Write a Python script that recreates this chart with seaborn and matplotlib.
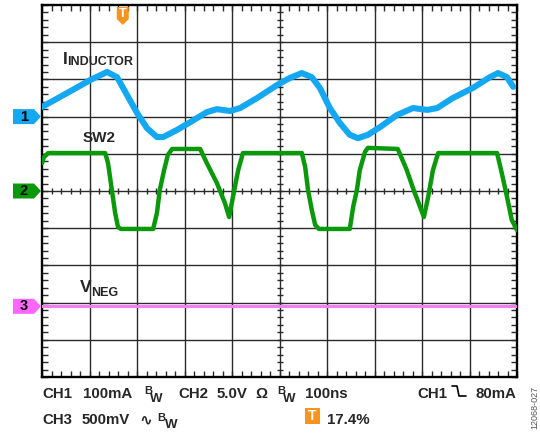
import numpy as np
import matplotlib
matplotlib.use("Agg")
import matplotlib.pyplot as plt
from matplotlib.patches import Polygon
from matplotlib.lines import Line2D
import seaborn as sns

# scope settings: 100 ns/div, 10 x 10 divisions, levels in screen divisions (0 = centre)
t_inductor = [0, 65, 101, 137, 158, 179, 200, 221, 242, 255, 284, 312, 347, 368, 396,
              417, 453, 495, 522, 547, 568, 585, 606, 627, 648, 665, 686, 712, 747,
              781, 811, 832, 865, 907, 943, 960, 979, 992]
inductor_div = [2.26, 2.72, 2.98, 3.20, 3.06, 2.58, 2.10, 1.69, 1.45, 1.45, 1.64, 1.85,
                2.12, 2.20, 2.15, 2.23, 2.50, 2.85, 3.04, 3.17, 3.06, 2.77, 2.23, 1.83,
                1.51, 1.42, 1.51, 1.72, 2.04, 2.23, 2.18, 2.23, 2.50, 2.77, 3.06, 3.17,
                3.06, 2.80]

t_sw2 = [0, 4, 13, 133, 139, 147, 154, 160, 166, 234, 242, 248, 257, 265, 274, 333, 347,
         368, 385, 394, 402, 413, 423, 547, 554, 560, 568, 575, 583, 648, 655, 663, 669,
         680, 686, 749, 768, 781, 796, 804, 813, 823, 834, 958, 968, 979, 989, 1000]
sw2_div = [0.75, 0.91, 1.02, 1.02, 0.75, 0.03, -0.59, -0.97, -1.02, -1.02, -0.59, 0.03,
           0.56, 0.97, 1.13, 1.13, 0.75, 0.22, -0.32, -0.70, -0.16, 0.56, 1.02, 1.02,
           0.65, 0.03, -0.51, -0.91, -1.02, -1.02, -0.43, 0.03, 0.56, 1.05, 1.16, 1.13,
           0.56, 0.08, -0.43, -0.70, -0.16, 0.56, 1.02, 1.02, 0.48, -0.16, -0.78, -1.05]

t_vneg = [0, 1000]
vneg_div = [-3.1, -3.1]

channel_refs = {"1": 2.0, "2": 0.0, "3": -3.1}
trigger_ns = 170

c_blue = "#14a8f2"
c_green = "#0a990a"
c_mag = "#f47cf4"
c_orange = "#f7941d"

sns.set_style("white")
plt.rcParams['font.family'] = ['Liberation Sans', 'DejaVu Sans']
plt.rcParams['font.weight'] = 'bold'

W, H = 540, 447
fig = plt.figure(figsize=(W / 100, H / 100), dpi=100)
ax = fig.add_axes([42 / W, 1 - 377 / H, 475 / W, 372 / H])
ax.set_xlim(0, 1000)
ax.set_ylim(-5, 5)

# graticule
for i in range(1, 10):
    ax.axvline(i * 100, color="#2a2a2a", lw=1.0, zorder=1)
    ax.axhline(i - 5, color="#2a2a2a", lw=1.0, zorder=1)
for s in ax.spines.values():
    s.set_linewidth(1.7)
    s.set_color("black")
ax.set_xticks([])
ax.set_yticks([])
ax.set_xticks(np.arange(0, 1001, 20), minor=True)
ax.set_yticks(np.arange(-5, 5.01, 0.2), minor=True)
ax.tick_params(which="minor", direction="in", length=4, width=1.0,
               top=True, right=True, bottom=True, left=True, colors="#2a2a2a")
ax.plot(np.arange(0, 1001, 20), np.zeros(51), ls="none", marker="|", ms=5, mew=1.0,
        color="#2a2a2a", zorder=1)
ax.plot(np.full(51, 500), np.arange(-5, 5.01, 0.2), ls="none", marker="_", ms=5, mew=1.0,
        color="#2a2a2a", zorder=1)

# traces
sns.lineplot(x=t_vneg, y=vneg_div, ax=ax, color=c_mag, lw=2.2, zorder=3)
sns.lineplot(x=t_sw2, y=sw2_div, ax=ax, color=c_green, lw=3.2, zorder=3)
sns.lineplot(x=t_inductor, y=inductor_div, ax=ax, color=c_blue, lw=4.4, zorder=4,
             solid_capstyle="round")

# channel markers on the left
tr = ax.get_yaxis_transform()
x0, x1, x2 = (13 - 42) / 475, (34 - 42) / 475, (41 - 42) / 475
hh = 7.5 / 37.2
colors = {"1": c_blue, "2": "#0a990a", "3": "#ff66ff"}
for ch, ref in channel_refs.items():
    poly = Polygon([(x0, ref - hh), (x1, ref - hh), (x2, ref), (x1, ref + hh), (x0, ref + hh)],
                   closed=True, transform=tr, facecolor=colors[ch], edgecolor="none",
                   clip_on=False, zorder=5)
    ax.add_patch(poly)
    ax.text((24 - 42) / 475, ref, ch, transform=tr, ha="center", va="center",
            fontsize=10.5, fontweight="bold", color="black", clip_on=False, zorder=7)

# trigger marker on top
trx = ax.get_xaxis_transform()
hw = 6 / 47.5 * 100
y_top, y_box, y_tip = (377 - 7) / 372, (377 - 19) / 372, (377 - 25) / 372
ax.add_patch(Polygon([(trigger_ns - hw, y_top), (trigger_ns + hw, y_top),
                      (trigger_ns + hw, y_box), (trigger_ns, y_tip), (trigger_ns - hw, y_box)],
                     closed=True, transform=trx, facecolor=c_orange, edgecolor="none",
                     clip_on=False, zorder=5))
ax.text(trigger_ns, (377 - 14) / 372, "T", transform=trx, ha="center", va="center",
        fontsize=9, fontweight="bold", color="white", zorder=7)


def ftext(x, y, s, size=10.8, **kw):
    fig.text(x / W, 1 - y / H, s, fontsize=size, fontweight="bold", va="baseline", **kw)


# trace labels
ftext(63, 64, "I", 12.5)
ftext(67, 65, "INDUCTOR", 9)
ftext(83, 142, "SW2", 11)
ftext(80, 292, "V", 12.5)
ftext(91, 296, "NEG", 9)

# status lines
ftext(42, 398, "CH1")
ftext(83, 398, "100mA")
ftext(144, 394, "B", 8)
ftext(150, 402, "W", 9.5)
ftext(178, 398, "CH2")
ftext(217, 398, "5.0V")
ftext(255, 398, "Ω")
ftext(277, 394, "B", 8)
ftext(283, 402, "W", 9.5)
ftext(305, 398, "100ns")
ftext(417, 398, "CH1")
ftext(476, 398, "80mA")
fig.add_artist(Line2D([452 / W, 457 / W, 459 / W, 466 / W],
                      [1 - 386 / H, 1 - 386 / H, 1 - 396 / H, 1 - 396 / H],
                      color="black", lw=1.2))

ftext(42, 424, "CH3")
ftext(82, 424, "500mV")
ftext(139, 424, "∿", 11)
ftext(157, 421, "B", 8)
ftext(165, 428, "W", 9.5)
fig.patches.append(plt.Rectangle((305 / W, 1 - 424 / H), 15 / W, 16 / H,
                                 transform=fig.transFigure, facecolor=c_orange,
                                 edgecolor="none"))
fig.text(312.5 / W, 1 - 416 / H, "T", fontsize=10, fontweight="bold", color="white",
         ha="center", va="center")
ftext(327, 424, "17.4%")

fig.text(535 / W, 1 - 407 / H, "12068-027", rotation=90, fontsize=6.5,
         fontweight="normal", color="#555555", ha="center", va="center")

fig.savefig("out.png", dpi=100)
